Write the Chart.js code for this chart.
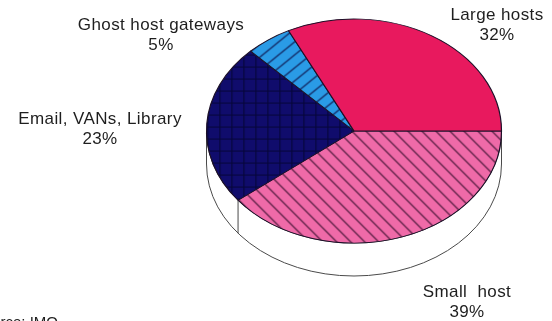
<!DOCTYPE html>
<html>
<head>
<meta charset="utf-8">
<script src="https://cdn.jsdelivr.net/npm/chart.js@4"></script>
<style>
  html, body { margin: 0; padding: 0; background: #ffffff; }
  #wrap { width: 552px; height: 321px; position: relative; overflow: hidden; }
  canvas { display: block; }
</style>
</head>
<body>
<div id="wrap"><canvas id="c" width="552" height="321"></canvas></div>
<script>
// Host categories, clockwise from the 3 o'clock position
const categories = ['Small  host', 'Email, VANs, Library', 'Ghost host gateways', 'Large hosts'];
const shares = [39, 23, 5, 32];
const source = 'Source: IMO';

// Tilted-disc geometry (screen pixels)
const DISC = { cx: 354, cy: 131, rx: 147.5, ry: 112, depth: 33 };

function hatch(base, line, w, h, draw) {
  const c = document.createElement('canvas');
  c.width = w; c.height = h;
  const g = c.getContext('2d');
  g.fillStyle = base;
  g.fillRect(0, 0, w, h);
  g.strokeStyle = line;
  g.lineWidth = 1.1;
  g.beginPath();
  draw(g, w, h);
  g.stroke();
  return g.createPattern(c, 'repeat');
}

const patterns = [
  // back-slash stripes
  hatch('#ef6aa8', '#3b1030', 14, 14, (g, w, h) => {
    g.moveTo(-1, -1); g.lineTo(w + 1, h + 1);
    g.moveTo(-1 - w, -1); g.lineTo(1, h + 1);
    g.moveTo(w - 1, -1); g.lineTo(2 * w + 1, h + 1);
  }),
  // square grid
  hatch('#100c6c', '#06063a', 12, 12, (g, w, h) => {
    g.moveTo(0, 0.5); g.lineTo(w, 0.5);
    g.moveTo(0.5, 0); g.lineTo(0.5, h);
  }),
  // shallow forward-slash stripes
  hatch('#2a9be6', '#101850', 16, 13, (g, w, h) => {
    g.moveTo(-1, h + 0.8); g.lineTo(w + 1, -0.8);
    g.moveTo(-1 - w, h + 0.8); g.lineTo(1, -0.8);
    g.moveTo(w - 1, h + 0.8); g.lineTo(2 * w + 1, -0.8);
  }),
  '#e8195e'
];

const tiltedPie = {
  id: 'tiltedPie',
  beforeDatasetsDraw(chart) {
    const ctx = chart.ctx;
    const arcs = chart.getDatasetMeta(0).data;
    const a0 = arcs[0];
    const R = a0.outerRadius;
    const sx = DISC.rx / R, sy = DISC.ry / R;
    const { cx, cy, rx, ry, depth } = DISC;

    // rim of the disc (front half only)
    ctx.save();
    ctx.beginPath();
    ctx.moveTo(cx + rx, cy);
    ctx.lineTo(cx + rx, cy + depth);
    ctx.ellipse(cx, cy + depth, rx, ry, 0, 0, Math.PI, false);
    ctx.lineTo(cx - rx, cy);
    ctx.ellipse(cx, cy, rx, ry, 0, Math.PI, 0, true);
    ctx.closePath();
    ctx.fillStyle = '#ffffff';
    ctx.fill();
    ctx.strokeStyle = '#4a4a4a';
    ctx.lineWidth = 1;
    ctx.stroke();
    // slice seams on the rim
    arcs.forEach(arc => {
      let a = arc.endAngle % (2 * Math.PI);
      if (a < 0) a += 2 * Math.PI;
      if (a > 0.02 && a < Math.PI - 0.02) {
        const x = cx + rx * Math.cos(a), y = cy + ry * Math.sin(a);
        ctx.beginPath();
        ctx.moveTo(x, y);
        ctx.lineTo(x, y + depth);
        ctx.stroke();
      }
    });
    ctx.restore();

    // keep the hatching upright while the disc is squashed
    patterns.forEach(p => {
      if (typeof p !== 'string') p.setTransform(new DOMMatrix().scale(1 / sx, 1 / sy));
    });

    ctx.save();
    ctx.translate(cx, cy);
    ctx.scale(sx, sy);
    ctx.translate(-a0.x, -a0.y);
  },
  afterDatasetsDraw(chart) {
    chart.ctx.restore();
  },
  afterDraw(chart) {
    const ctx = chart.ctx;
    // label anchor points: [x, first baseline]
    const spots = [[467, 297], [100, 124], [161, 30], [497, 20]];
    ctx.save();
    ctx.fillStyle = '#1e1e1e';
    ctx.textAlign = 'center';
    ctx.textBaseline = 'alphabetic';
    ctx.font = '17px "Liberation Sans", Arial, sans-serif';
    ctx.letterSpacing = '0.4px';
    categories.forEach((name, i) => {
      const [x, y] = spots[i];
      ctx.fillText(name, x, y);
      ctx.fillText(shares[i] + '%', x, y + 20);
    });
    ctx.textAlign = 'right';
    ctx.letterSpacing = '0px';
    ctx.font = '15px "Liberation Sans", Arial, sans-serif';
    ctx.fillText(source, 58, 327);
    ctx.restore();
  }
};

new Chart(document.getElementById('c'), {
  type: 'pie',
  data: {
    labels: categories,
    datasets: [{
      data: shares,
      backgroundColor: patterns,
      borderColor: '#1c1028',
      borderWidth: 1.3,
      clip: false
    }]
  },
  options: {
    responsive: false,
    animation: false,
    rotation: 90,
    events: [],
    plugins: { legend: { display: false }, tooltip: { enabled: false } }
  },
  plugins: [tiltedPie]
});
</script>
</body>
</html>
